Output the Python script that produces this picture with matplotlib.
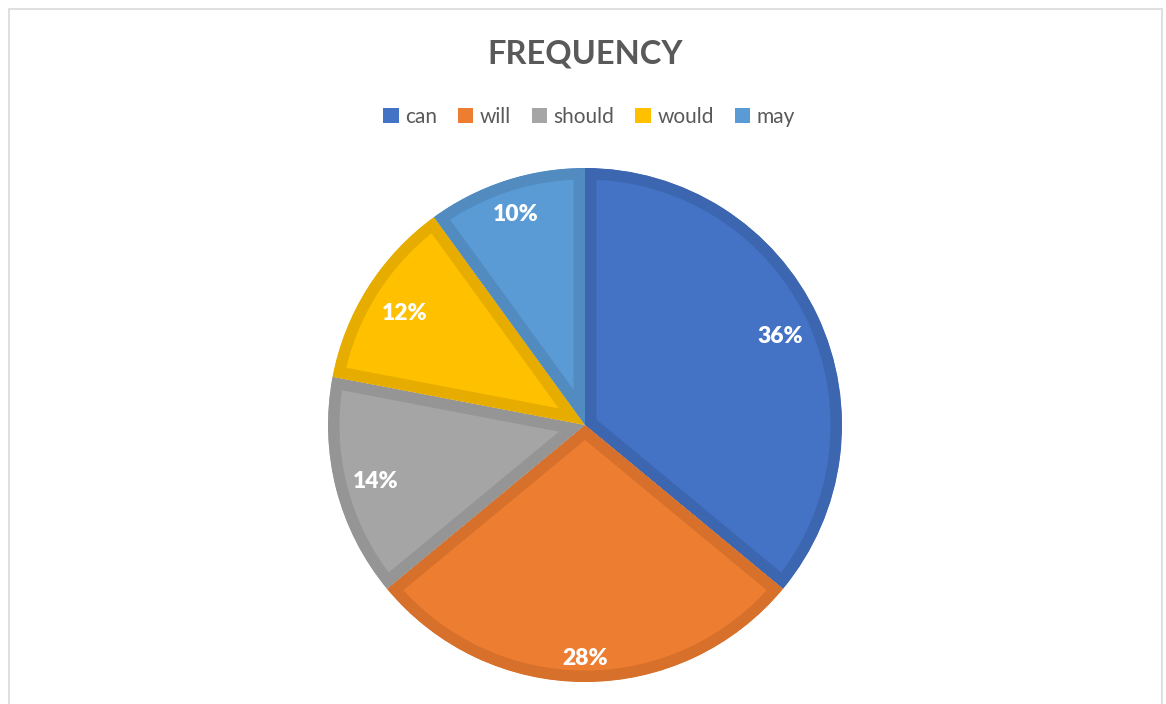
import matplotlib
matplotlib.use("Agg")
import matplotlib.pyplot as plt
from matplotlib.patches import Patch, Rectangle
import numpy as np

plt.rcParams['font.family'] = ['Lato', 'DejaVu Sans']

categories = ["can", "will", "should", "would", "may"]
shares = [36, 28, 14, 12, 10]
fill_colors = ["#4472C4", "#ED7D31", "#A5A5A5", "#FFC000", "#5B9BD5"]
edge_colors = ["#3D66B1", "#D6702B", "#959595", "#E6AD00", "#518BC0"]
label_radius = [0.84, 0.895, 0.84, 0.83, 0.875]

W, H, DPI = 1166, 704, 100
fig = plt.figure(figsize=(W / DPI, H / DPI), dpi=DPI)

# light frame around the chart area
fig.add_artist(Rectangle((8.5 / W, -0.05), (1161.5 - 8.5) / W, 1.0 - 8.5 / H + 0.05,
                         transform=fig.transFigure, fill=False,
                         edgecolor="#D9D9D9", linewidth=1.2))

cx, cy, R, pad = 585, 425, 257, 272
ax = fig.add_axes([(cx - pad) / W, (H - cy - pad) / H, 2 * pad / W, 2 * pad / H])
lim = pad / R

wedges, _ = ax.pie(shares, colors=fill_colors, startangle=90, counterclock=False,
                   radius=1.0, center=(0, 0), frame=True,
                   wedgeprops=dict(linewidth=16.5, joinstyle="miter"))
ax.set_xlim(-lim, lim)
ax.set_ylim(-lim, lim)
ax.set_aspect("equal")
ax.axis("off")

# keep each slice's outline inside the slice itself
for w, ec in zip(wedges, edge_colors):
    w.set_edgecolor(ec)
    w.set_clip_path(w)
    w.set_clip_on(True)

total = sum(shares)
for w, v, r in zip(wedges, shares, label_radius):
    ang = np.deg2rad((w.theta1 + w.theta2) / 2)
    ax.text(r * np.cos(ang), r * np.sin(ang) - 0.012, f"{round(100 * v / total)}%",
            ha="center", va="center", color="white", fontsize=16.5, fontweight="heavy")

fig.text(585 / W, 1 - 54 / H, "FREQUENCY", ha="center", va="center",
         fontsize=23.5, fontweight="bold", color="#595959")

handles = [Patch(facecolor=c, edgecolor="none") for c in fill_colors]
fig.legend(handles, categories, loc="center", bbox_to_anchor=(589 / W, 1 - 117 / H),
           ncol=5, frameon=False, fontsize=15, labelcolor="#595959",
           handlelength=0.75, handleheight=0.75, handletextpad=0.3,
           columnspacing=1.0)

fig.savefig("out.png", dpi=DPI)
